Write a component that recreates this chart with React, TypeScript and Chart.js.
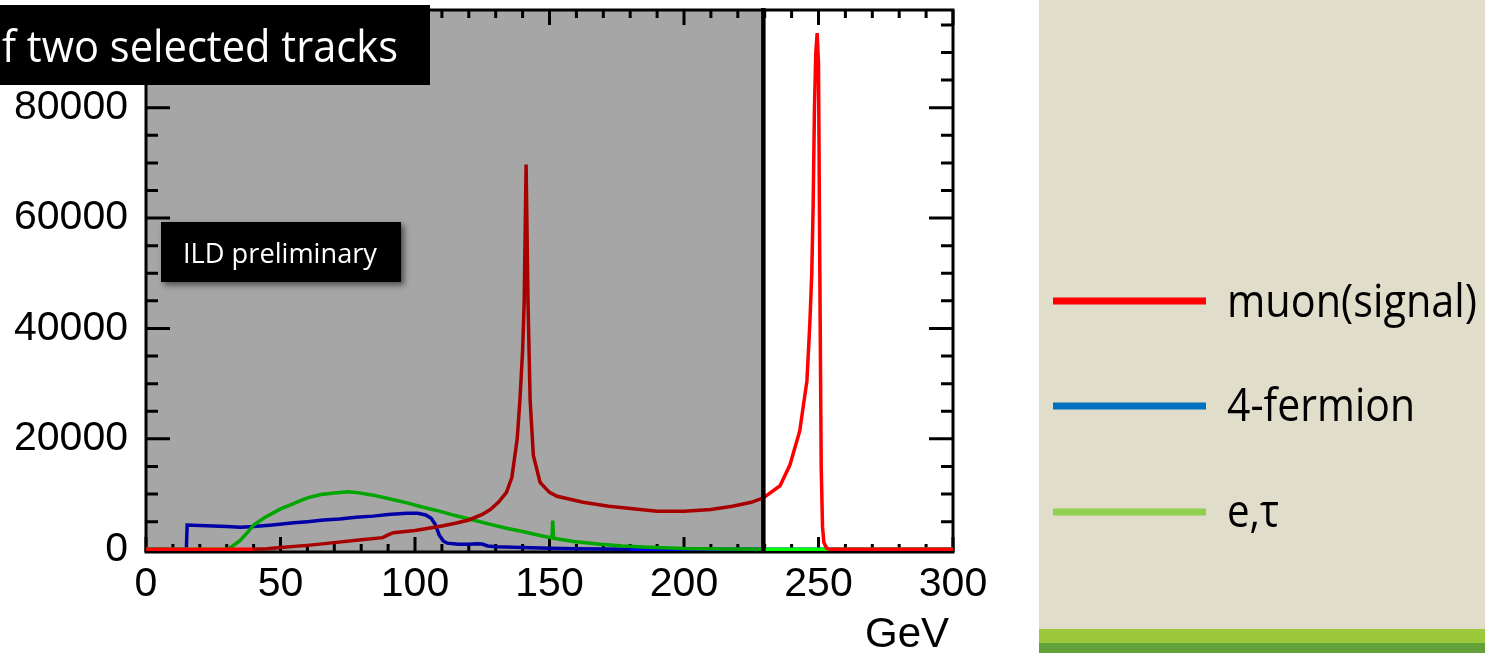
import React, { useEffect, useRef } from "react";
import { Chart, registerables } from "chart.js";

Chart.register(...registerables);

// ---- data ----
const muonGeV = [0, 40, 45, 50, 60, 70, 80, 88, 90, 92, 100, 110, 115, 120, 125, 128, 131, 134, 136, 138, 139, 140, 140.6, 141.3, 142, 142.8, 144, 146.5, 150, 152.8, 162.5, 172, 183.7, 190, 200, 210, 218, 225, 229.5, 235.7, 239.4, 243, 245.7, 246.8, 247.5, 248, 248.5, 249, 249.5, 250, 250.5, 251, 251.5, 252, 253, 254, 300];
const muonCounts = [0, 0, 100, 300, 700, 1200, 1700, 2100, 2600, 3000, 3400, 4200, 4700, 5300, 6300, 7200, 8500, 10300, 13000, 20000, 27000, 36000, 45000, 69700, 45000, 27000, 17000, 12100, 10300, 9600, 8500, 7800, 7200, 6900, 6900, 7200, 7800, 8500, 9300, 11500, 15300, 21400, 30500, 41100, 50000, 62000, 80000, 90000, 93500, 88000, 50000, 15000, 4000, 1200, 200, 0, 0];

const fermionGeV = [0, 15, 15.3, 20, 25, 30, 35, 40, 47, 55, 60, 66, 72, 78, 84.5, 90, 97, 101, 104, 106, 107.5, 109, 110.5, 112, 116, 120, 123, 125, 127, 130, 140, 150, 160, 170, 180, 229.5, 300];
const fermionCounts = [0, 0, 4400, 4300, 4200, 4100, 4000, 4100, 4400, 4800, 5000, 5300, 5500, 5800, 6000, 6300, 6500, 6500, 6200, 5600, 4500, 2600, 1500, 1100, 900, 900, 1000, 950, 600, 450, 300, 200, 100, 30, 0, 0, 0];

const etauGeV = [0, 30, 32, 35, 38, 40, 44, 47, 50, 53.5, 57, 60, 65, 70, 75, 78, 84.5, 90, 97, 103, 109, 115, 121.6, 128, 134, 140, 146.5, 150.9, 151.2, 151.5, 159, 169, 177, 187, 200, 215, 229.5, 300];
const etauCounts = [0, 0, 500, 1600, 3200, 4400, 5700, 6500, 7300, 8000, 8700, 9300, 9900, 10200, 10400, 10300, 9800, 9200, 8400, 7600, 6900, 6100, 5300, 4500, 3800, 3200, 2500, 2050, 5200, 2000, 1400, 900, 600, 350, 120, 30, 0, 0];

const seriesLabels = ["muon(signal)", "4-fermion", "e,\u03c4"];
const xTickValues = [0, 50, 100, 150, 200, 250, 300];
const yTickValues = [0, 20000, 40000, 60000, 80000];
const cutGeV = 229.5;
const titleText = "f two selected tracks";
const stampText = "ILD preliminary";
const axisUnit = "GeV";

// ---- styles ----
const brightColors = ["#ff0000", "#0000ff", "#00ff00"];
const darkColors = ["#a60000", "#0000a6", "#00a600"];
const legendColors = ["#ff0000", "#0070c0", "#92d050"];

const toPoints = (xs: number[], ys: number[]) => xs.map((x, i) => ({ x, y: ys[i] }));

const segColor = (i: number) => (c: any) => {
  const x0 = c.p0.parsed.x;
  const bothZero = c.p0.parsed.y === 0 && c.p1.parsed.y === 0;
  return x0 < cutGeV && !bothZero ? darkColors[i] : brightColors[i];
};

const decorPlugin = {
  id: "decor",
  beforeDraw(chart: any) {
    const ctx = chart.ctx;
    ctx.save();
    ctx.fillStyle = "#ffffff";
    ctx.fillRect(0, 0, chart.width, chart.height);
    ctx.fillStyle = "#e1ddcb";
    ctx.fillRect(1039, 0, 446, 653);
    ctx.fillStyle = "#9bc93b";
    ctx.fillRect(1039, 629, 446, 14);
    ctx.fillStyle = "#63a23a";
    ctx.fillRect(1039, 643, 446, 10);
    ctx.restore();
  },
  beforeDatasetsDraw(chart: any) {
    const { ctx, chartArea: a, scales } = chart;
    const xs = scales.x;
    const ys = scales.y;
    const cx = xs.getPixelForValue(cutGeV);
    ctx.save();
    ctx.fillStyle = "#a6a6a6";
    ctx.fillRect(a.left, a.top, cx - a.left, a.bottom - a.top);
    ctx.strokeStyle = "#000";
    ctx.lineWidth = 3;
    ctx.beginPath();
    for (let v = 0; v <= 300; v += 10) {
      const px = xs.getPixelForValue(v);
      const len = v % 50 === 0 ? 15 : 8;
      ctx.moveTo(px, a.bottom);
      ctx.lineTo(px, a.bottom - len);
      ctx.moveTo(px, a.top);
      ctx.lineTo(px, a.top + len);
    }
    for (let v = 0; v <= ys.max; v += 5000) {
      const py = ys.getPixelForValue(v);
      const len = v % 20000 === 0 ? 24 : 12;
      ctx.moveTo(a.left, py);
      ctx.lineTo(a.left + len, py);
      ctx.moveTo(a.right, py);
      ctx.lineTo(a.right - len, py);
    }
    ctx.stroke();
    ctx.strokeRect(a.left, a.top, a.right - a.left, a.bottom - a.top);
    ctx.restore();
  },
  afterDatasetsDraw(chart: any) {
    const { ctx, chartArea: a, scales } = chart;
    const cx = scales.x.getPixelForValue(cutGeV);
    ctx.save();
    ctx.strokeStyle = "#000";
    ctx.lineWidth = 4.5;
    ctx.beginPath();
    ctx.moveTo(cx, a.top - 2);
    ctx.lineTo(cx, a.bottom);
    ctx.stroke();
    ctx.restore();
  },
  afterDraw(chart: any) {
    const ctx = chart.ctx;
    ctx.save();
    // axis unit
    ctx.fillStyle = "#000";
    ctx.font = "42px 'Liberation Sans'";
    ctx.textAlign = "right";
    ctx.textBaseline = "alphabetic";
    ctx.fillText(axisUnit, 949, 647);

    // title box
    ctx.textAlign = "left";
    ctx.fillStyle = "#000";
    ctx.fillRect(0, 5, 430, 80);
    ctx.fillStyle = "#fff";
    ctx.font = "43px 'Open Sans'";
    ctx.fillText(titleText, 2, 62, 396);

    // ILD stamp with shadow
    ctx.save();
    ctx.shadowColor = "rgba(0,0,0,0.55)";
    ctx.shadowBlur = 6;
    ctx.shadowOffsetX = 3;
    ctx.shadowOffsetY = 3;
    ctx.fillStyle = "#000";
    ctx.fillRect(161, 222, 240, 60);
    ctx.restore();
    ctx.fillStyle = "#fff";
    ctx.font = "28px 'Open Sans'";
    ctx.fillText(stampText, 183, 263, 194);

    // legend
    const rowsY = [301, 406, 512];
    const baseY = [317, 421, 527];
    const widths = [250, 188, 52];
    chart.data.datasets.forEach((ds: any, i: number) => {
      ctx.strokeStyle = legendColors[i];
      ctx.lineWidth = 7;
      ctx.lineCap = "butt";
      ctx.beginPath();
      ctx.moveTo(1053, rowsY[i]);
      ctx.lineTo(1206, rowsY[i]);
      ctx.stroke();
      ctx.fillStyle = "#000";
      ctx.font = "45px 'Open Sans'";
      ctx.fillText(ds.label, 1227, baseY[i], widths[i]);
    });
    ctx.restore();
  },
};

export default function App() {
  const ref = useRef<HTMLCanvasElement | null>(null);

  useEffect(() => {
    if (!ref.current) return;
    const series = [
      toPoints(muonGeV, muonCounts),
      toPoints(fermionGeV, fermionCounts),
      toPoints(etauGeV, etauCounts),
    ];
    const drawOrder = [0, 2, 1];
    const chart = new Chart(ref.current, {
      type: "line",
      data: {
        datasets: series.map((pts, i) => ({
          label: seriesLabels[i],
          data: pts,
          borderColor: brightColors[i],
          borderWidth: 3.5,
          pointRadius: 0,
          tension: 0,
          fill: false,
          order: drawOrder[i],
          segment: { borderColor: segColor(i) },
        })),
      },
      options: {
        animation: false,
        responsive: false,
        devicePixelRatio: 1,
        layout: { padding: { top: 10, right: 532, bottom: 0, left: 0 } },
        plugins: {
          legend: { display: false },
          tooltip: { enabled: false },
          title: { display: false },
        },
        scales: {
          x: {
            type: "linear",
            min: 0,
            max: 300,
            grid: { display: false, drawTicks: false },
            border: { display: false },
            afterBuildTicks: (s: any) => {
              s.ticks = xTickValues.map((v) => ({ value: v }));
            },
            afterFit: (s: any) => {
              s.height = 101;
              s.paddingLeft = 0;
              s.paddingRight = 0;
            },
            ticks: {
              autoSkip: false,
              maxRotation: 0,
              padding: 8,
              color: "#000",
              font: { family: "'Liberation Sans'", size: 41 },
              callback: (v: any) => String(v),
            },
          },
          y: {
            type: "linear",
            min: -500,
            max: 97700,
            grid: { display: false, drawTicks: false },
            border: { display: false },
            afterBuildTicks: (s: any) => {
              s.ticks = yTickValues.map((v) => ({ value: v }));
            },
            afterFit: (s: any) => {
              s.width = 146;
              s.paddingTop = 0;
              s.paddingBottom = 0;
            },
            ticks: {
              autoSkip: false,
              padding: 18,
              color: "#000",
              font: { family: "'Liberation Sans'", size: 41 },
              callback: (v: any) => String(v),
            },
          },
        },
      },
      plugins: [decorPlugin],
    });
    return () => chart.destroy();
  }, []);

  return (
    <canvas
      ref={ref}
      width={1485}
      height={653}
      style={{ position: "absolute", left: 0, top: 0, width: 1485, height: 653 }}
    />
  );
}
